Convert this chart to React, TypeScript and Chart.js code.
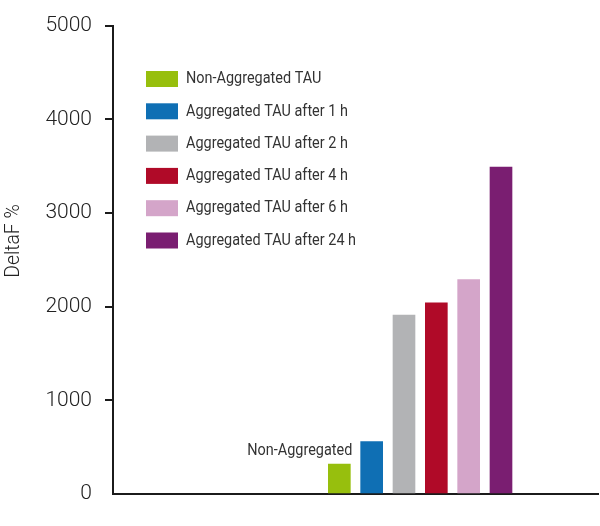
import { useEffect, useRef } from "react";
import { Chart, registerables } from "chart.js";

Chart.register(...registerables);

// Bars, in drawing order
const seriesLabels = [
  "Non-Aggregated TAU",
  "Aggregated TAU after 1 h",
  "Aggregated TAU after 2 h",
  "Aggregated TAU after 4 h",
  "Aggregated TAU after 6 h",
  "Aggregated TAU after 24 h",
];
const seriesValues = [320, 560, 1910, 2040, 2290, 3490];
const seriesColors = ["#97bf0d", "#0f6fb4", "#b2b3b5", "#b00a28", "#d4a5c9", "#7a1e71"];

// empty category slots on either side of the bars
const slotsBefore = 7;
const slotsAfter = 3;

const yTicks = [0, 1000, 2000, 3000, 4000, 5000];
const yTitle = "DeltaF %";
const barNote = "Non-Aggregated";

const FONT = "Roboto, sans-serif";
const TEXT = "#333333";
const AXIS = "#1b1b1b";
// the original face is a narrow DIN-like one; squeeze Roboto to match
const SQUEEZE = 0.85;

const pad = <T,>(n: number, v: T): T[] => Array(n).fill(v);

function narrowText(ctx: CanvasRenderingContext2D, text: string, x: number, y: number) {
  ctx.save();
  ctx.translate(x, y);
  ctx.scale(SQUEEZE, 1);
  ctx.fillText(text, 0, 0);
  ctx.restore();
}

/** Draws the boxed legend inside the plot, the bar note and the y title. */
const labelsPlugin = {
  id: "sideLabels",
  afterDraw(chart: Chart) {
    const { ctx } = chart;
    ctx.save();
    ctx.font = `400 17px ${FONT}`;
    ctx.textBaseline = "middle";
    ctx.textAlign = "left";
    seriesLabels.forEach((label, i) => {
      const y = 71 + i * 32.3;
      ctx.fillStyle = seriesColors[i];
      ctx.fillRect(146, y, 32, 16);
      ctx.fillStyle = TEXT;
      narrowText(ctx, label, 186, y + 8);
    });

    const first = chart.getDatasetMeta(0).data[slotsBefore];
    if (first) {
      ctx.textAlign = "right";
      narrowText(ctx, barNote, first.x + 13, first.y - 13);
    }

    ctx.font = `300 21px ${FONT}`;
    ctx.fillStyle = "#222222";
    ctx.textAlign = "center";
    ctx.translate(14, 241);
    ctx.rotate(-Math.PI / 2);
    ctx.scale(0.92, 1);
    ctx.fillText(yTitle, 0, 0);
    ctx.restore();
  },
};

export default function App() {
  const canvasRef = useRef<HTMLCanvasElement>(null);
  const chartRef = useRef<Chart | null>(null);

  useEffect(() => {
    const el = canvasRef.current;
    if (!el) return;
    document.body.style.margin = "0";

    chartRef.current?.destroy();
    chartRef.current = new Chart(el, {
      type: "bar",
      data: {
        labels: [...pad(slotsBefore, ""), ...seriesLabels, ...pad(slotsAfter, "")],
        datasets: [
          {
            data: [...pad(slotsBefore, null), ...seriesValues, ...pad(slotsAfter, null)],
            backgroundColor: [
              ...pad(slotsBefore, "transparent"),
              ...seriesColors,
              ...pad(slotsAfter, "transparent"),
            ],
            barThickness: 22,
          },
        ],
      },
      options: {
        responsive: true,
        maintainAspectRatio: false,
        animation: false,
        layout: { padding: { top: 24, right: 2, left: 0, bottom: 0 } },
        plugins: {
          legend: { display: false },
          tooltip: { enabled: false },
        },
        scales: {
          x: {
            offset: false,
            grid: { display: false },
            ticks: { display: false },
            border: { display: true, color: AXIS, width: 2 },
            afterFit: (s) => {
              s.height = 32;
            },
          },
          y: {
            min: yTicks[0],
            max: yTicks[yTicks.length - 1],
            afterBuildTicks: (s) => {
              s.ticks = yTicks.map((value) => ({ value }));
            },
            grid: {
              drawOnChartArea: false,
              drawTicks: true,
              tickLength: 8,
              lineWidth: 2,
              color: (c) => (c.tick && c.tick.value === 0 ? "transparent" : AXIS),
            },
            border: { display: true, color: AXIS, width: 2 },
            ticks: {
              color: "#222222",
              padding: 13,
              font: { family: FONT, size: 21, weight: 300 },
              callback: (v) => String(v),
            },
            afterFit: (s) => {
              s.width = 113;
            },
          },
        },
      },
      plugins: [labelsPlugin],
    });

    return () => {
      chartRef.current?.destroy();
      chartRef.current = null;
    };
  }, []);

  return (
    <div style={{ position: "relative", width: 600, height: 526 }}>
      <canvas ref={canvasRef} />
    </div>
  );
}
